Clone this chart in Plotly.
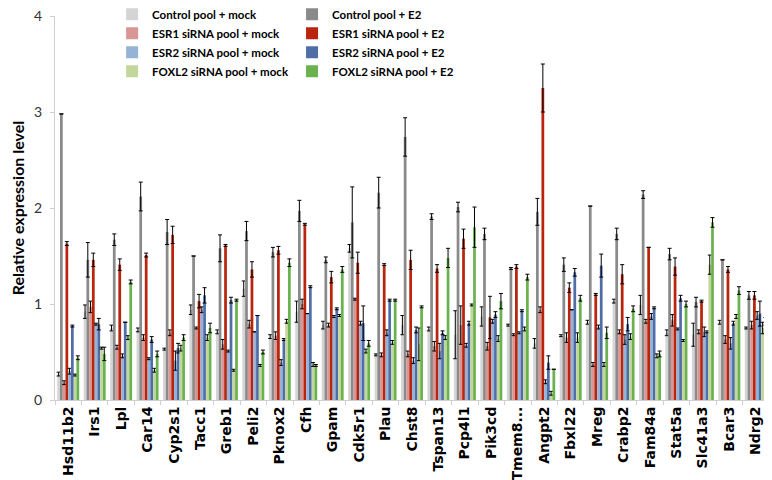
import plotly.graph_objects as go

genes = ['Hsd11b2', 'Irs1', 'Lpl', 'Car14', 'Cyp2s1', 'Tacc1', 'Greb1', 'Peli2', 'Pknox2',
         'Cfh', 'Gpam', 'Cdk5r1', 'Plau', 'Chst8', 'Tspan13', 'Pcp4l1', 'Pik3cd', 'Tmem8...',
         'Angpt2', 'Fbxl22', 'Mreg', 'Crabp2', 'Fam84a', 'Stat5a', 'Slc41a3', 'Bcar3', 'Ndrg2']

# mean values per condition
ctrl_mock = [0.27, 0.92, 0.75, 0.73, 0.53, 0.94, 0.71, 1.16, 0.66, 0.92, 0.78, 1.58, 0.47,
             0.78, 0.74, 0.68, 0.87, 0.78, 0.59, 0.67, 0.81, 1.03, 0.99, 0.70, 0.68, 0.81, 0.75]
ctrl_e2 = [2.98, 1.46, 1.67, 2.12, 1.75, 1.50, 1.58, 1.76, 1.54, 1.97, 1.46, 1.85, 2.16,
           2.74, 1.91, 2.01, 1.73, 1.37, 1.96, 1.41, 2.02, 1.73, 2.14, 1.52, 1.02, 1.46, 1.09]
esr1_mock = [0.18, 0.97, 0.55, 0.65, 0.70, 0.75, 0.58, 0.79, 0.67, 1.00, 0.78, 1.05, 0.47,
             0.48, 0.56, 0.78, 0.56, 0.68, 0.94, 0.65, 0.37, 0.71, 0.82, 0.83, 0.71, 0.63, 0.78]
esr1_e2 = [1.63, 1.46, 1.41, 1.51, 1.72, 1.03, 1.61, 1.36, 1.56, 1.83, 1.28, 1.43, 1.41,
           1.46, 1.37, 1.68, 0.86, 1.39, 3.25, 1.17, 1.10, 1.31, 1.59, 1.39, 1.03, 1.36, 1.09]
esr2_mock = [0.30, 0.79, 0.46, 0.43, 0.41, 0.94, 0.51, 0.71, 0.39, 0.90, 0.87, 0.80, 0.70,
             0.41, 0.51, 0.57, 0.82, 0.70, 0.19, 0.94, 0.76, 0.63, 0.87, 0.74, 0.71, 0.59, 0.88]
esr2_e2 = [0.77, 0.79, 0.81, 0.63, 0.54, 1.09, 1.04, 0.88, 0.63, 1.18, 0.95, 0.80, 1.04,
           0.73, 0.70, 0.80, 0.89, 0.93, 0.39, 1.33, 1.40, 0.79, 0.96, 1.06, 0.71, 0.80, 0.90]
foxl2_mock = [0.26, 0.54, 0.65, 0.31, 0.54, 0.65, 0.31, 0.36, 0.82, 0.37, 0.88, 0.51, 0.60,
              0.58, 0.65, 0.99, 0.64, 0.74, 0.07, 0.65, 0.37, 0.66, 0.46, 0.62, 1.41, 0.87, 0.75]
foxl2_e2 = [0.44, 0.48, 1.23, 0.48, 0.65, 0.75, 1.04, 0.50, 1.43, 0.36, 1.36, 0.59, 1.04,
            0.97, 1.48, 1.80, 1.03, 1.28, 0.32, 1.06, 0.70, 0.95, 0.48, 1.00, 1.85, 1.14, 0.82]

# error bar half-widths
ctrl_mock_err = [0.02, 0.07, 0.03, 0.02, 0.01, 0.05, 0.02, 0.08, 0.02, 0.11, 0.04, 0.04, 0.01,
                 0.10, 0.02, 0.25, 0.10, 0.01, 0.05, 0.01, 0.02, 0.02, 0.10, 0.03, 0.12, 0.02, 0.01]
ctrl_e2_err = [0.0, 0.18, 0.06, 0.15, 0.13, 0.0, 0.14, 0.10, 0.05, 0.11, 0.03, 0.37, 0.16,
               0.20, 0.03, 0.05, 0.06, 0.01, 0.14, 0.07, 0.0, 0.06, 0.04, 0.06, 0.05, 0.0, 0.04]
esr1_mock_err = [0.02, 0.06, 0.02, 0.03, 0.03, 0.01, 0.05, 0.04, 0.04, 0.05, 0.02, 0.01, 0.02,
                 0.03, 0.05, 0.20, 0.04, 0.01, 0.03, 0.05, 0.02, 0.02, 0.02, 0.06, 0.02, 0.04, 0.04]
esr1_e2_err = [0.02, 0.07, 0.06, 0.02, 0.09, 0.07, 0.01, 0.08, 0.04, 0.01, 0.06, 0.11, 0.01,
               0.10, 0.04, 0.10, 0.22, 0.02, 0.25, 0.05, 0.01, 0.10, 0.0, 0.09, 0.01, 0.03, 0.04]
esr2_mock_err = [0.03, 0.01, 0.02, 0.01, 0.10, 0.03, 0.01, 0.0, 0.03, 0.0, 0.01, 0.02, 0.03,
                 0.03, 0.08, 0.02, 0.02, 0.01, 0.02, 0.0, 0.02, 0.05, 0.03, 0.01, 0.05, 0.06, 0.04]
esr2_e2_err = [0.01, 0.06, 0.0, 0.03, 0.05, 0.08, 0.03, 0.0, 0.01, 0.01, 0.01, 0.18, 0.01,
               0.03, 0.02, 0.02, 0.03, 0.01, 0.07, 0.04, 0.12, 0.07, 0.01, 0.03, 0.01, 0.02, 0.13]
foxl2_mock_err = [0.01, 0.01, 0.02, 0.02, 0.03, 0.03, 0.01, 0.01, 0.02, 0.02, 0.01, 0.02, 0.02,
                  0.17, 0.02, 0.01, 0.03, 0.02, 0.02, 0.05, 0.02, 0.03, 0.02, 0.01, 0.10, 0.02, 0.06]
foxl2_e2_err = [0.02, 0.07, 0.02, 0.03, 0.03, 0.05, 0.01, 0.02, 0.04, 0.01, 0.03, 0.03, 0.01,
                0.01, 0.10, 0.21, 0.08, 0.03, 0.0, 0.03, 0.06, 0.03, 0.03, 0.03, 0.05, 0.04, 0.04]

series = [
    ('Control pool + mock', ctrl_mock, ctrl_mock_err, '#d4d4d4', 'legend'),
    ('Control pool + E2', ctrl_e2, ctrl_e2_err, '#8a8a8a', 'legend2'),
    ('ESR1 siRNA pool + mock', esr1_mock, esr1_mock_err, '#d99694', 'legend'),
    ('ESR1 siRNA pool + E2', esr1_e2, esr1_e2_err, '#b8240c', 'legend2'),
    ('ESR2 siRNA pool + mock', esr2_mock, esr2_mock_err, '#95b3d7', 'legend'),
    ('ESR2 siRNA pool + E2', esr2_e2, esr2_e2_err, '#4f6ea8', 'legend2'),
    ('FOXL2 siRNA pool + mock', foxl2_mock, foxl2_mock_err, '#c3d69b', 'legend'),
    ('FOXL2 siRNA pool + E2', foxl2_e2, foxl2_e2_err, '#6ab150', 'legend2'),
]

fig = go.Figure()
for name, vals, errs, col, lg in series:
    fig.add_trace(go.Bar(
        x=genes, y=vals, name=name, marker_color=col, marker_line_width=0,
        legend=lg,
        error_y=dict(type='data', array=errs, color='black', thickness=1, width=2),
    ))

# page body adds an 8px offset, so margins are shifted to compensate
legend_font = dict(family='Lato', size=11.5, color='black', weight='bold')
fig.update_layout(
    width=772, height=480,
    barmode='group', bargap=0.17, bargroupgap=0,
    plot_bgcolor='white', paper_bgcolor='white',
    margin=dict(l=47, r=11, t=8, b=88, autoexpand=False),
    font=dict(family='Lato', size=13, color='black'),
    legend=dict(x=0.08, y=1.042, xanchor='left', yanchor='top',
                bgcolor='rgba(0,0,0,0)', font=legend_font, tracegroupgap=0, itemwidth=30),
    legend2=dict(x=0.332, y=1.042, xanchor='left', yanchor='top',
                 bgcolor='rgba(0,0,0,0)', font=legend_font, tracegroupgap=0, itemwidth=30),
)
fig.update_xaxes(
    tickangle=-90, tickfont=dict(family='DejaVu Sans', size=14, color='black', weight='bold'),
    showline=True, linecolor='#d0d0d0', linewidth=1,
    ticks='outside', tickson='boundaries', ticklen=4, tickcolor='#d0d0d0',
)
fig.update_yaxes(
    range=[0, 4], dtick=1, showgrid=False, zeroline=False,
    showline=True, linecolor='#d0d0d0', linewidth=1,
    ticks='outside', ticklen=4, tickcolor='#d0d0d0', ticklabelstandoff=5,
    ticklabeloverflow='allow',
    tickfont=dict(family='Lato', size=14, color='#333333'),
    title=dict(text='<b>Relative expression level</b>', font=dict(family='Lato', size=16), standoff=14),
)

fig.write_html("out.html")
